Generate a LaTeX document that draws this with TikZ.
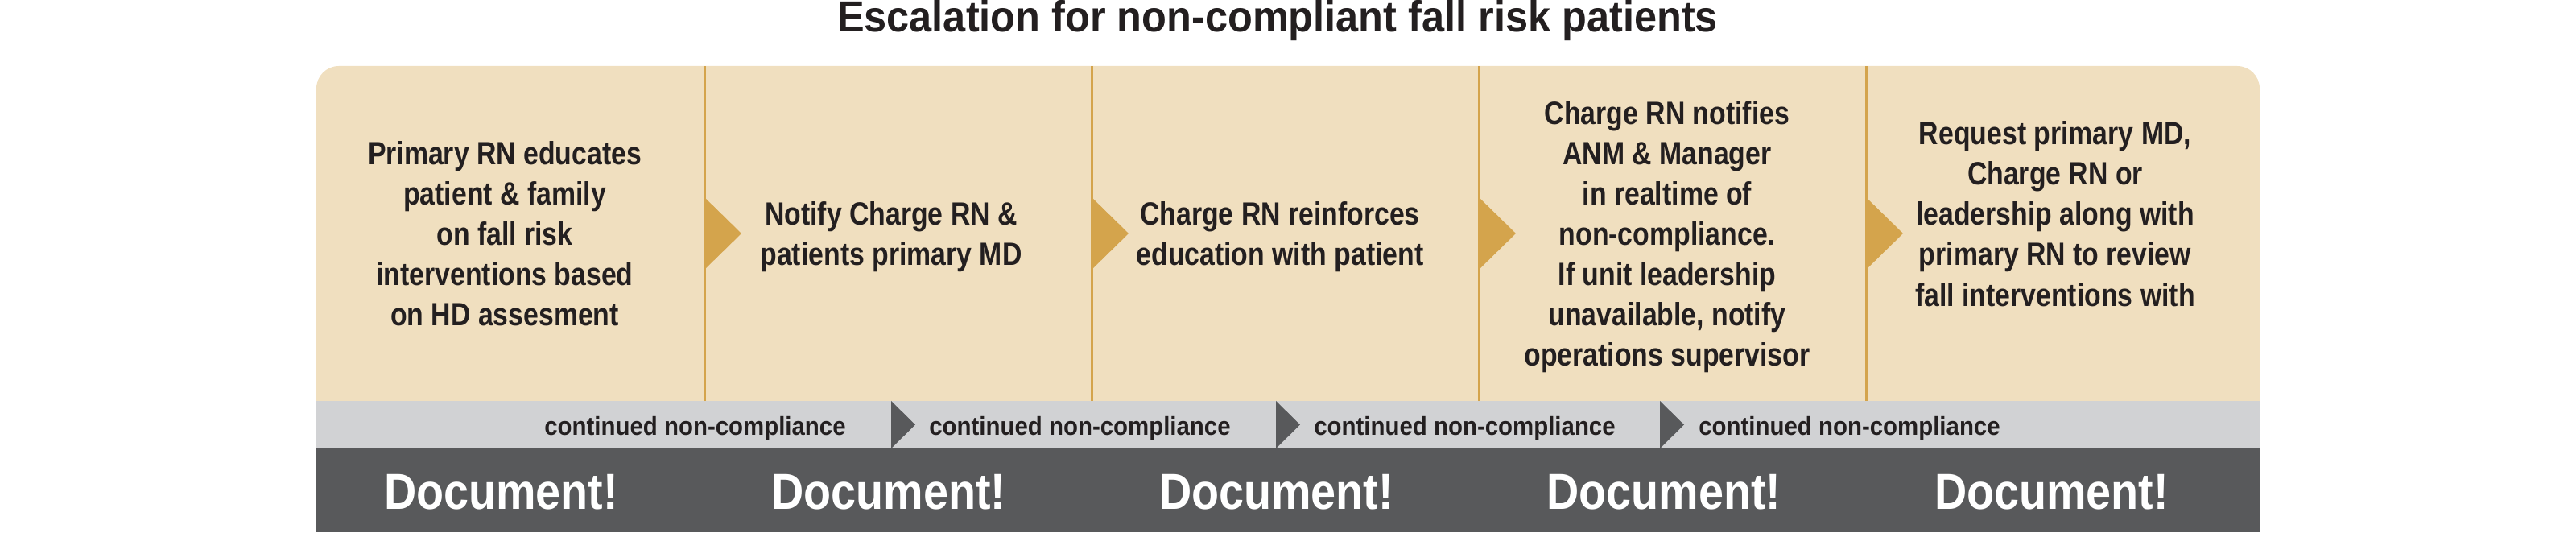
\documentclass[tikz,border=0pt]{standalone}
\usepackage{fontspec}
\usepackage{tikz}

\newfontfamily\titlefont{Liberation Sans}[FakeStretch=0.935]
\newfontfamily\stepfont{Liberation Sans}[FakeStretch=0.845]
\newfontfamily\notefont{Liberation Sans}[FakeStretch=0.92]
\newfontfamily\docfont{Liberation Sans}[FakeStretch=0.887]

\definecolor{panelbeige}{HTML}{F0DFBF}
\definecolor{arrowgold}{HTML}{D4A44C}
\definecolor{bandgray}{HTML}{D1D2D4}
\definecolor{banddark}{HTML}{58595B}
\definecolor{inkblack}{HTML}{231F20}

\begin{document}
\begin{tikzpicture}[
    titletext/.style={anchor=base, inner sep=0pt, text=inkblack, font=\titlefont\bfseries\fontsize{15.36}{18}\selectfont},
    stepbox/.style={align=center, inner sep=0pt, text depth=0pt, text=inkblack, font=\stepfont\bfseries\fontsize{11.38}{14.23}\selectfont},
    notebox/.style={anchor=base, inner sep=0pt, text=inkblack, font=\notefont\bfseries\fontsize{9.1}{11}\selectfont},
    docbox/.style={anchor=base, inner sep=0pt, text=white, font=\docfont\bfseries\fontsize{17.87}{20}\selectfont},
    divider/.style={draw=arrowgold, line width=0.03cm},
    goldtip/.style={fill=arrowgold},
    graytip/.style={fill=banddark}
]
    \useasboundingbox (0,0) rectangle (32,6.62);

    \fill[panelbeige] (3.93,1.64) {[rounded corners=0.28cm] -- (3.93,5.80) -- (28.07,5.80)} -- (28.07,1.64) -- cycle;
    \fill[bandgray] (3.93,1.05) rectangle (28.07,1.64);
    \fill[banddark] (3.93,0.01) rectangle (28.07,1.05);

    \draw[divider] (8.75,1.64) -- (8.75,5.80);
    \draw[divider] (13.56,1.64) -- (13.56,5.80);
    \draw[divider] (18.37,1.64) -- (18.37,5.80);
    \draw[divider] (23.18,1.64) -- (23.18,5.80);

    \fill[goldtip] (8.75,4.17) -- (9.21,3.72) -- (8.75,3.27) -- cycle;
    \fill[goldtip] (13.56,4.17) -- (14.02,3.72) -- (13.56,3.27) -- cycle;
    \fill[goldtip] (18.37,4.17) -- (18.83,3.72) -- (18.37,3.27) -- cycle;
    \fill[goldtip] (23.18,4.17) -- (23.64,3.72) -- (23.18,3.27) -- cycle;

    \fill[graytip] (11.07,1.64) -- (11.37,1.345) -- (11.07,1.05) -- cycle;
    \fill[graytip] (15.85,1.64) -- (16.15,1.345) -- (15.85,1.05) -- cycle;
    \fill[graytip] (20.62,1.64) -- (20.92,1.345) -- (20.62,1.05) -- cycle;

    \node[titletext] (title) at (15.87,6.22) {Escalation for non-compliant fall risk patients};

    \node[stepbox] (educate) at (6.27,3.72) {Primary RN educates\\patient \& family\\on fall risk\\interventions based\\on HD assesment};
    \node[stepbox] (notify) at (11.07,3.72) {Notify Charge RN \&\\patients primary MD};
    \node[stepbox] (reinforce) at (15.90,3.72) {Charge RN reinforces\\education with patient};
    \node[stepbox] (escalate) at (20.71,3.72) {Charge RN notifies\\ANM \& Manager\\in realtime of\\non-compliance.\\If unit leadership\\unavailable, notify\\operations supervisor};
    \node[stepbox] (review) at (25.53,3.965) {Request primary MD,\\Charge RN or\\leadership along with\\primary RN to review\\fall interventions with};

    \node[notebox] (note1) at (8.635,1.21) {continued non-compliance};
    \node[notebox] (note2) at (13.415,1.21) {continued non-compliance};
    \node[notebox] (note3) at (18.195,1.21) {continued non-compliance};
    \node[notebox] (note4) at (22.975,1.21) {continued non-compliance};

    \node[docbox] (doc1) at (6.225,0.29) {Document!};
    \node[docbox] (doc2) at (11.04,0.29) {Document!};
    \node[docbox] (doc3) at (15.855,0.29) {Document!};
    \node[docbox] (doc4) at (20.67,0.29) {Document!};
    \node[docbox] (doc5) at (25.485,0.29) {Document!};
\end{tikzpicture}
\end{document}
